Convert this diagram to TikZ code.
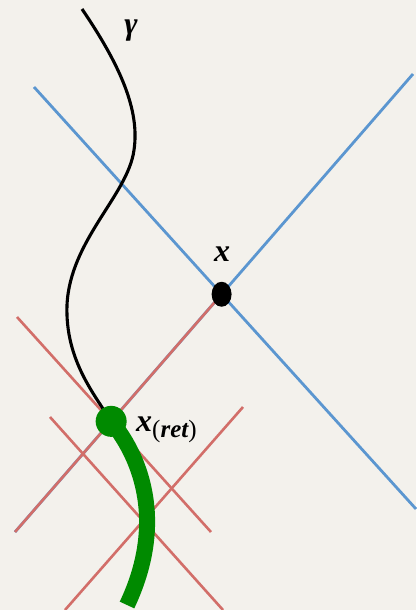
\documentclass[tikz,border=0pt]{standalone}
\usepackage{fontspec}
\setmainfont{Liberation Serif}
\usetikzlibrary{shapes.geometric,calc}
\definecolor{paper}{RGB}{243,241,236}
\definecolor{lblue}{RGB}{91,150,208}
\definecolor{lred}{RGB}{210,110,105}
\definecolor{wgreen}{RGB}{0,138,0}
\begin{document}
\begin{tikzpicture}[x=1pt,y=-1pt,
  blueline/.style={draw=lblue,line width=2.8pt},
  redline/.style={draw=lred,line width=2.6pt},
  worldline/.style={draw=black,line width=3.1pt},
  lbl/.style={font=\fontsize{32}{32}\selectfont\bfseries\itshape,inner sep=0pt}]
\fill[paper] (0,0) rectangle (416,610);
\useasboundingbox (0,0) rectangle (416,610);
% end points
\coordinate (b1s) at (34,87);
\coordinate (b1e) at (416,509);
\coordinate (b2s) at (15,532);
\coordinate (b2e) at (413,74);
\coordinate (X) at (intersection of b1s--b1e and b2s--b2e);
\coordinate (r1s) at (17,317);
\coordinate (r1e) at (211,532);
\coordinate (Xr) at (intersection of r1s--r1e and b2s--X);
\coordinate (r3s) at (50,417);
\coordinate (r3e) at (223,610);
\coordinate (r4s) at (243,407);
\coordinate (r4e) at (65,610);
\coordinate (gtop) at (82,9);
\coordinate (gend) at (127,605);
% blue light cone of x
\draw[blueline] (b1s) -- (b1e);
\draw[blueline] (b2s) -- (b2e);
% red cones
\draw[redline] (b2s) -- (X);
\draw[redline] (r1s) -- (r1e);
\draw[redline] (r3s) -- (r3e);
\draw[redline] (r4s) -- (r4e);
% worldline gamma
\draw[worldline] (gtop) .. controls (120,65) and (140,110) .. (134,150)
  .. controls (128,195) and (70,240) .. (67,305)
  .. controls (65,360) and (95,395) .. (Xr);
% green segment
\draw[draw=wgreen,line width=16pt] (Xr) .. controls (143,460) and (165,525) .. (gend);
% dots
\node[circle,fill=wgreen,minimum size=31pt,inner sep=0pt] (xret) at (Xr) {};
\node[ellipse,fill=black,minimum width=20pt,minimum height=25pt,inner sep=0pt] (xdot) at (X) {};
% labels
\node[lbl] (gamma) at (131,31) {γ};
\node[lbl] (xlab) at (222,254) {x};
\node[lbl,anchor=base west] (xretlab) at (136,431) {x\raisebox{-6pt}{\fontsize{25}{25}\selectfont\mdseries\upshape(\bfseries\itshape ret\mdseries\upshape)}};
\end{tikzpicture}
\end{document}
